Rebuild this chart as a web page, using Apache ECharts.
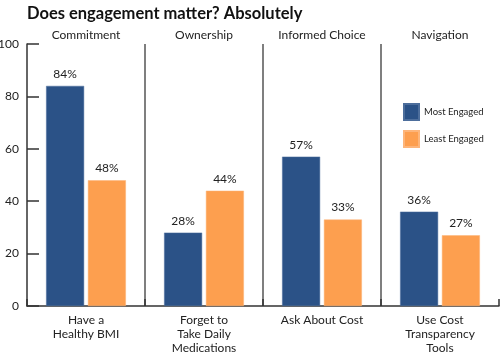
<!DOCTYPE html>
<html>
<head>
<meta charset="utf-8">
<script src="https://cdn.jsdelivr.net/npm/echarts@6/dist/echarts.min.js"></script>
<style>html,body{margin:0;padding:0;background:#fff;}#c{width:500px;height:354px;}</style>
</head>
<body>
<div id="c"></div>
<script>
var groups = ['Commitment', 'Ownership', 'Informed Choice', 'Navigation'];
var categories = ['Have a\nHealthy BMI', 'Forget to\nTake Daily\nMedications', 'Ask About Cost', 'Use Cost\nTransparency\nTools'];
var mostEngaged = [84, 28, 57, 36];
var leastEngaged = [48, 44, 33, 27];
var yTicks = [0, 20, 40, 60, 80, 100];

var FONT = 'Lato';
var chart = echarts.init(document.getElementById('c'), null, {renderer: 'canvas'});
chart.setOption({
  animation: false,
  backgroundColor: '#fff',
  title: {
    text: 'Does engagement matter? Absolutely',
    left: 22, top: 0,
    textStyle: {fontFamily: FONT, fontWeight: 'bold', fontSize: 16.5, color: '#111'}
  },
  legend: {
    orient: 'vertical',
    left: 398, top: 98,
    itemWidth: 15, itemHeight: 16, itemGap: 9,
    icon: 'rect',
    textStyle: {fontFamily: FONT, fontSize: 9.5, color: '#222'},
    data: ['Most Engaged', 'Least Engaged']
  },
  grid: {left: 27, right: 1, top: 44, bottom: 48, containLabel: false, outerBoundsMode: 'none'},
  xAxis: [{
    type: 'category',
    data: categories,
    position: 'bottom',
    axisLine: {show: true, lineStyle: {color: '#333', width: 1.5}},
    axisTick: {show: true, inside: true, length: 7, lineStyle: {color: '#333', width: 1.5}},
    axisLabel: {fontFamily: FONT, fontSize: 12, color: '#222', lineHeight: 14, margin: 7, interval: 0},
    splitLine: {show: true, showMinLine: false, showMaxLine: false, lineStyle: {color: '#555', width: 1.5}}
  }, {
    type: 'category',
    data: groups,
    position: 'top',
    axisLine: {show: false},
    axisTick: {show: false},
    axisLabel: {fontFamily: FONT, fontSize: 12, color: '#222', margin: 3, interval: 0},
    splitLine: {show: false}
  }],
  yAxis: {
    type: 'value',
    min: 0, max: 100, interval: 20,
    axisLine: {show: true, lineStyle: {color: '#333', width: 1.5}},
    axisTick: {show: true, inside: true, length: 12, lineStyle: {color: '#333', width: 1.5}},
    axisLabel: {fontFamily: FONT, fontSize: 12, color: '#222', margin: 8,
      customValues: yTicks},
    splitLine: {show: false}
  },
  series: [{
    name: 'Most Engaged',
    type: 'bar',
    data: mostEngaged,
    barWidth: 38,
    barGap: '10%',
    itemStyle: {color: '#2b5287', borderColor: '#4d6e9c', borderWidth: 0.5},
    label: {show: true, position: 'top', distance: 6, formatter: '{c}%', fontFamily: FONT, fontSize: 12, color: '#222'}
  }, {
    name: 'Least Engaged',
    type: 'bar',
    data: leastEngaged,
    barWidth: 38,
    barGap: '10%',
    itemStyle: {color: '#fd9f4f', borderColor: '#fdb57a', borderWidth: 0.5},
    label: {show: true, position: 'top', distance: 6, formatter: '{c}%', fontFamily: FONT, fontSize: 12, color: '#222'}
  }]
});
</script>
</body>
</html>
